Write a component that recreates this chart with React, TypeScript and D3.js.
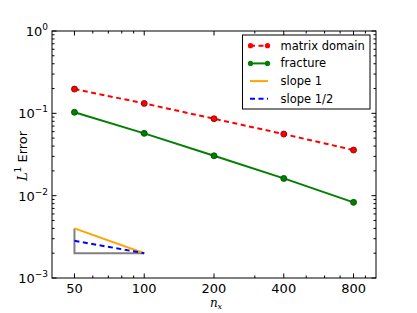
import React from 'react';
import * as d3 from 'd3';

const nx = [50, 100, 200, 400, 800];
const matrixErr = [0.197, 0.132, 0.086, 0.056, 0.0358];
const fractureErr = [0.103, 0.0571, 0.0305, 0.0162, 0.0083];

// reference triangle
const slopeX = [50, 100];
const slope1 = [0.004, 0.002];
const slopeHalf = [0.00283, 0.002];

const xMajor = [50, 100, 200, 400, 800];
const xMinor = [60, 70, 80, 90, 300, 500, 600, 700, 900];
const yMajor = [1e-3, 1e-2, 1e-1, 1];
const yMajorExp = ['−3', '−2', '−1', '0'];

const legendItems = [
  { label: 'matrix domain', color: '#ff0000', dash: '5,3.5', marker: true },
  { label: 'fracture', color: '#008000', dash: null, marker: true },
  { label: 'slope 1', color: '#ffa500', dash: null, marker: false },
  { label: 'slope 1/2', color: '#0000ff', dash: '5,3.5', marker: false },
];

const W = 417;
const H = 313;
const left = 52, right = 376, top = 31, bottom = 278;
const font = 'DejaVu Sans, sans-serif';

const App = () => {
  const x = d3.scaleLog().domain([40, 1000]).range([left, right]);
  const y = d3.scaleLog().domain([1e-3, 1]).range([bottom, top]);

  const yMinor: number[] = [];
  [1e-3, 1e-2, 1e-1].forEach(d => {
    for (let k = 2; k <= 9; k++) yMinor.push(d * k);
  });

  const line = d3.line<[number, number]>()
    .x(d => x(d[0]))
    .y(d => y(d[1]));

  const pts = (vals: number[], xs = nx) => xs.map((v, i) => [v, vals[i]] as [number, number]);

  const majorLen = 4.5;
  const minorLen = 2.5;

  return (
    <svg width={W} height={H} style={{ position: 'absolute', left: 0, top: 0, background: '#fff' }}>
      {/* slope triangle */}
      <path
        d={line([[slopeX[0], slope1[0]], [slopeX[0], slope1[1]], [slopeX[1], slope1[1]]]) || ''}
        fill="none" stroke="#808080" strokeWidth={2}
      />
      <path d={line(pts(slope1, slopeX)) || ''} fill="none" stroke="#ffa500" strokeWidth={2} />
      <path d={line(pts(slopeHalf, slopeX)) || ''} fill="none" stroke="#0000ff" strokeWidth={2} strokeDasharray="5,3.5" />

      {/* series */}
      <path d={line(pts(matrixErr)) || ''} fill="none" stroke="#ff0000" strokeWidth={2} strokeDasharray="5,3.5" />
      <path d={line(pts(fractureErr)) || ''} fill="none" stroke="#008000" strokeWidth={2} />
      {nx.map((v, i) => (
        <circle key={'m' + i} cx={x(v)} cy={y(matrixErr[i])} r={3} fill="#ff0000" stroke="#800000" strokeWidth={0.8} />
      ))}
      {nx.map((v, i) => (
        <circle key={'f' + i} cx={x(v)} cy={y(fractureErr[i])} r={3} fill="#008000" stroke="#004000" strokeWidth={0.8} />
      ))}

      {/* ticks, inward on all sides */}
      <g stroke="#000" strokeWidth={1}>
        {xMajor.map(v => (
          <g key={'xM' + v}>
            <line x1={x(v)} x2={x(v)} y1={bottom} y2={bottom - majorLen} />
            <line x1={x(v)} x2={x(v)} y1={top} y2={top + majorLen} />
          </g>
        ))}
        {xMinor.map(v => (
          <g key={'xm' + v}>
            <line x1={x(v)} x2={x(v)} y1={bottom} y2={bottom - minorLen} />
            <line x1={x(v)} x2={x(v)} y1={top} y2={top + minorLen} />
          </g>
        ))}
        {yMajor.map(v => (
          <g key={'yM' + v}>
            <line x1={left} x2={left + majorLen} y1={y(v)} y2={y(v)} />
            <line x1={right} x2={right - majorLen} y1={y(v)} y2={y(v)} />
          </g>
        ))}
        {yMinor.map(v => (
          <g key={'ym' + v}>
            <line x1={left} x2={left + minorLen} y1={y(v)} y2={y(v)} />
            <line x1={right} x2={right - minorLen} y1={y(v)} y2={y(v)} />
          </g>
        ))}
      </g>

      <rect x={left} y={top} width={right - left} height={bottom - top} fill="none" stroke="#000" strokeWidth={1} />

      {/* tick labels */}
      {xMajor.map(v => (
        <text key={'xl' + v} x={x(v)} y={293} textAnchor="middle" fontFamily={font} fontSize={13} fill="#000">
          {v}
        </text>
      ))}
      {yMajor.map((v, i) => (
        <text key={'yl' + v} x={48} y={y(v) + 5} textAnchor="end" fontFamily={font} fontSize={13} fill="#000">
          10<tspan fontSize={9} dy={-6}>{yMajorExp[i]}</tspan>
        </text>
      ))}

      {/* axis labels */}
      <text x={216} y={307} textAnchor="middle" fontFamily="DejaVu Serif, serif" fontStyle="italic" fontSize={12}>
        n<tspan fontSize={8} dy={2}>x</tspan>
      </text>
      <text transform={`translate(27,156) rotate(-90)`} textAnchor="middle" fontSize={13} fontFamily={font}>
        <tspan fontFamily="DejaVu Serif, serif" fontStyle="italic">L</tspan>
        <tspan fontSize={9} dy={-6}>1</tspan>
        <tspan dy={6}> Error</tspan>
      </text>

      {/* legend */}
      <g>
        <rect x={242.5} y={35} width={127.5} height={74} fill="#fff" stroke="#000" strokeWidth={1} />
        {legendItems.map((d, i) => {
          const ly = 45.7 + i * 17.7;
          return (
            <g key={d.label}>
              <line x1={250} x2={268} y1={ly} y2={ly} stroke={d.color} strokeWidth={2}
                strokeDasharray={d.dash || undefined} />
              {d.marker && (
                <>
                  <circle cx={250.5} cy={ly} r={2.6} fill={d.color} />
                  <circle cx={267.5} cy={ly} r={2.6} fill={d.color} />
                </>
              )}
              <text x={280.5} y={ly + 4} fontFamily={font} fontSize={11.5} fill="#000">{d.label}</text>
            </g>
          );
        })}
      </g>
    </svg>
  );
};

export default App;
